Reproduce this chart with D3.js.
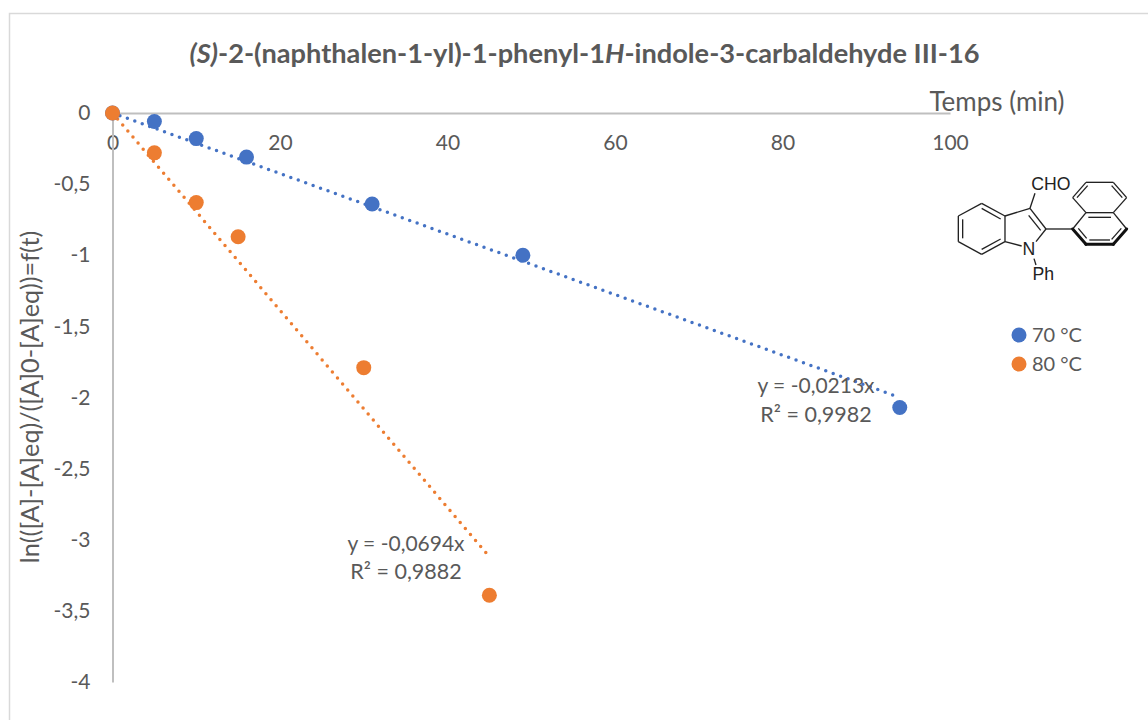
<!DOCTYPE html>
<html>
<head>
<meta charset="utf-8">
<script src="https://cdn.jsdelivr.net/npm/d3@7"></script>
<style>
  body { margin: 0; background: #fff; }
  text { font-family: Lato, "Open Sans", sans-serif; fill: #595959; }
</style>
</head>
<body>
<script>
// values
var xTicks = [0, 20, 40, 60, 80, 100];
var yTicks = [0, -0.5, -1, -1.5, -2, -2.5, -3, -3.5, -4];

var times70 = [0, 5, 10, 16, 31, 49, 94];
var values70 = [0, -0.06, -0.18, -0.31, -0.64, -1.0, -2.07];
var times80 = [0, 5, 10, 15, 30, 45];
var values80 = [0, -0.28, -0.63, -0.87, -1.79, -3.39];

// trendline ends, [x, y]
var trend70 = [[0, 0], [94, -2.0]];
var trend80 = [[0, 0], [45, -3.12]];

var seriesNames = ["70 °C", "80 °C"];
var seriesColors = ["#4472c4", "#ed7d31"];

var width = 1148, height = 720;

var svg = d3.select("body").append("svg")
  .attr("width", width)
  .attr("height", height);

// chart frame, the bottom and right edges are cut off in the original
svg.append("path")
  .attr("d", "M9.5,720V13.5H1148")
  .attr("fill", "none")
  .attr("stroke", "#d9d9d9")
  .attr("stroke-width", 1.5);

// create scales
var xLinearScale = d3.scaleLinear().domain([0, 100]).range([112.5, 950]);
var yLinearScale = d3.scaleLinear().domain([-4, 0]).range([682, 113]);

function commaFormat(d) {
  return String(d).replace(".", ",");
}

var bottomAxis = d3.axisBottom(xLinearScale)
  .tickValues(xTicks)
  .tickSize(0)
  .tickPadding(22)
  .tickFormat(commaFormat);

var leftAxis = d3.axisLeft(yLinearScale)
  .tickValues(yTicks)
  .tickSize(0)
  .tickPadding(22)
  .tickFormat(commaFormat);

var xAxis = svg.append("g")
  .attr("transform", `translate(0, ${yLinearScale(0)})`)
  .call(bottomAxis);

var yAxis = svg.append("g")
  .attr("transform", `translate(${xLinearScale(0)}, 0)`)
  .call(leftAxis);

[xAxis, yAxis].forEach(function(axis) {
  axis.select(".domain").attr("stroke", "#bfbfbf").attr("stroke-width", 2);
  axis.selectAll("text")
    .style("font-size", "21px")
    .style("fill", "#595959");
});

// trendlines
var trendLine = d3.line()
  .x(d => xLinearScale(d[0]))
  .y(d => yLinearScale(d[1]));

[trend70, trend80].forEach(function(trend, i) {
  svg.append("path")
    .attr("d", trendLine(trend))
    .attr("fill", "none")
    .attr("stroke", seriesColors[i])
    .attr("stroke-width", 3.5)
    .attr("stroke-linecap", "round")
    .attr("stroke-dasharray", "0 7.9");
});

// points
function drawPoints(times, values, color) {
  svg.append("g").selectAll("circle")
    .data(times)
    .enter()
    .append("circle")
    .attr("cx", d => xLinearScale(d))
    .attr("cy", (d, i) => yLinearScale(values[i]))
    .attr("r", 7.5)
    .attr("fill", color);
}
drawPoints(times70, values70, seriesColors[0]);
drawPoints(times80, values80, seriesColors[1]);

// title with italic parts
var title = svg.append("text")
  .attr("x", 584.5)
  .attr("y", 63)
  .attr("text-anchor", "middle")
  .style("font-size", "27.2px")
  .style("font-weight", "bold");
title.append("tspan").style("font-style", "italic").text("(S)");
title.append("tspan").text("-2-(naphthalen-1-yl)-1-phenyl-1");
title.append("tspan").style("font-style", "italic").text("H");
title.append("tspan").text("-indole-3-carbaldehyde III-16");

// axis titles
svg.append("text")
  .attr("x", 997)
  .attr("y", 111)
  .attr("text-anchor", "middle")
  .style("font-size", "26px")
  .text("Temps (min)");

svg.append("text")
  .attr("transform", "translate(39, 397) rotate(-90)")
  .attr("text-anchor", "middle")
  .style("font-size", "25.3px")
  .text("ln(([A]-[A]eq)/([A]0-[A]eq))=f(t)");

// trendline labels
var equations = [
  { x: 816, y1: 393, y2: 422, eq: "y = -0,0213x", r2: "R² = 0,9982" },
  { x: 406, y1: 551, y2: 579, eq: "y = -0,0694x", r2: "R² = 0,9882" }
];
equations.forEach(function(e) {
  svg.append("text").attr("x", e.x).attr("y", e.y1).attr("text-anchor", "middle")
    .style("font-size", "21px").text(e.eq);
  svg.append("text").attr("x", e.x).attr("y", e.y2).attr("text-anchor", "middle")
    .style("font-size", "21.5px").text(e.r2);
});

// legend
var legend = svg.append("g").selectAll("g")
  .data(seriesNames)
  .enter()
  .append("g")
  .attr("transform", (d, i) => `translate(1019, ${335 + i * 29})`);
legend.append("circle")
  .attr("r", 7.5)
  .attr("fill", (d, i) => seriesColors[i]);
legend.append("text")
  .attr("x", 13)
  .attr("y", 7)
  .style("font-size", "20px")
  .text(d => d);

// molecule drawing, bonds in zoomed crop units
var bonds = [
  [155,130,225,168],[225,168,225,245],[225,245,155,283],[155,283,85,245],[85,245,85,168],[85,168,155,130],
  [98,178,98,235],[155,145,212,177],[155,268,212,237],
  [225,168,300,145],[300,145,348,207],[296,166,332,211],[348,207,318,245],[225,245,275,258],
  [300,145,315,100],[312,296,318,315],[348,207,428,207],
  [468,158,428,113],[428,113,468,67],[468,67,550,67],[550,67,590,113],[590,113,550,158],[550,158,468,158],
  [441,113,473,77],[545,77,577,113],[475,172,543,172],
  [468,158,428,207],[550,158,590,207],
  [478,240,540,240],[545,238,574,205],[445,205,470,235]
];
var boldBonds = [[428,207,468,253],[468,253,550,253],[550,253,590,207]];

var mol = svg.append("g").attr("transform", "translate(930, 160) scale(0.3333)");
mol.selectAll("line.bond")
  .data(bonds)
  .enter()
  .append("line")
  .attr("class", "bond")
  .attr("x1", d => d[0]).attr("y1", d => d[1])
  .attr("x2", d => d[2]).attr("y2", d => d[3])
  .attr("stroke", "#222")
  .attr("stroke-width", 4);
mol.selectAll("line.bold")
  .data(boldBonds)
  .enter()
  .append("line")
  .attr("class", "bold")
  .attr("x1", d => d[0]).attr("y1", d => d[1])
  .attr("x2", d => d[2]).attr("y2", d => d[3])
  .attr("stroke", "#111")
  .attr("stroke-width", 9)
  .attr("stroke-linecap", "round");

[["CHO", 363, 90], ["N", 297, 285], ["Ph", 340, 360]].forEach(function(a) {
  mol.append("text")
    .attr("x", a[1])
    .attr("y", a[2])
    .attr("text-anchor", "middle")
    .style("font-family", "'Liberation Sans', Arial, sans-serif")
    .style("font-size", "53px")
    .style("fill", "#222")
    .text(a[0]);
});
</script>
</body>
</html>
